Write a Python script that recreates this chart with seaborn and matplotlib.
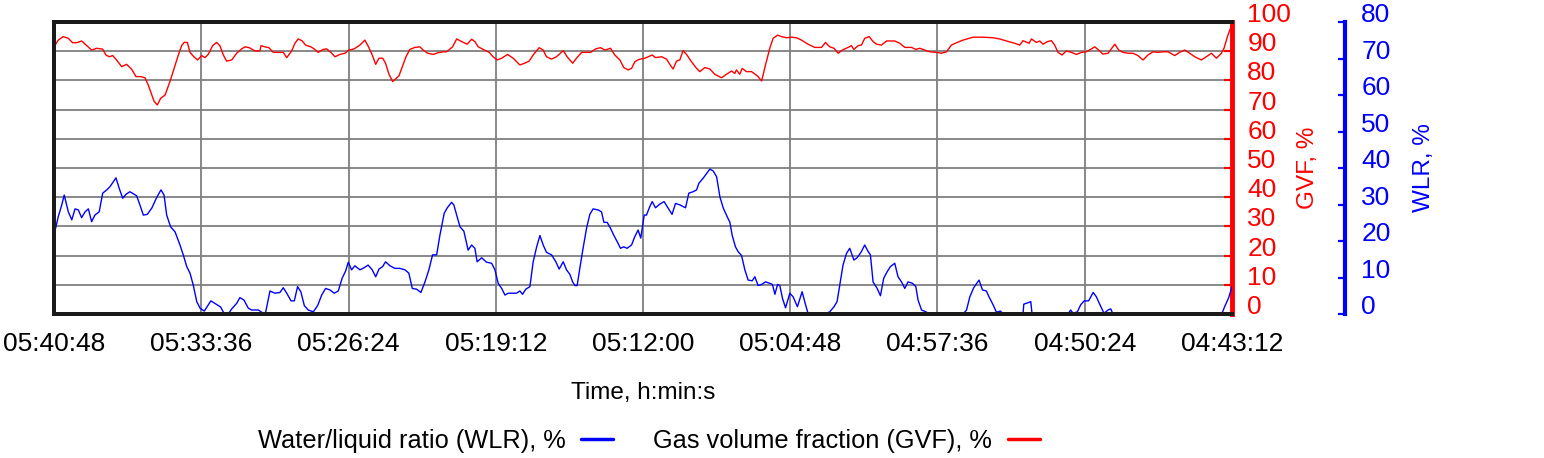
import matplotlib
matplotlib.use("Agg")
import matplotlib.pyplot as plt
import seaborn as sns
from matplotlib.lines import Line2D

# ---------------- data ----------------
time_tick_labels = ["04:43:12", "04:50:24", "04:57:36", "05:04:48", "05:12:00",
                    "05:19:12", "05:26:24", "05:33:36", "05:40:48"]
gvf_ticks = [0, 10, 20, 30, 40, 50, 60, 70, 80, 90, 100]
wlr_ticks = [0, 10, 20, 30, 40, 50, 60, 70, 80]

# minutes elapsed since 04:43:12
gvf_time_min = [
    57.60, 57.39, 57.15, 56.90, 56.69, 56.49, 56.25, 56.00, 55.76, 55.51,
    55.22, 55.06, 54.90, 54.73, 54.54, 54.29, 54.05, 53.80, 53.59, 53.36,
    53.15, 52.99, 52.82, 52.71, 52.55, 52.38, 52.17, 51.93, 51.73, 51.52,
    51.36, 51.24, 51.08, 50.95, 50.76, 50.58, 50.38, 50.22, 50.06, 49.84,
    49.65, 49.49, 49.32, 49.16, 48.91, 48.67, 48.42, 48.26, 48.05,
    47.77, 47.53, 47.48, 47.29, 47.09, 46.88, 46.64, 46.39, 46.22, 45.98,
    45.82, 45.66, 45.46, 45.30, 45.04, 44.88, 44.68, 44.44, 44.27, 44.06,
    43.86, 43.62, 43.37, 43.18, 42.92, 42.64, 42.40, 42.20, 42.04, 41.87,
    41.71, 41.53, 41.39, 41.22, 41.04, 40.90, 40.73, 40.57, 40.39, 40.20,
    39.95, 39.71, 39.55, 39.33, 39.06, 38.81, 38.57,
    38.40, 38.11, 37.91, 37.67, 37.40, 37.18, 37.02, 36.86, 36.61, 36.32,
    36.13, 35.93, 35.71, 35.42, 35.15, 34.82, 34.58, 34.37, 34.17, 33.88,
    33.68, 33.52, 33.27, 33.03, 32.70, 32.51, 32.24, 32.05, 31.80, 31.56,
    31.36, 31.11, 30.88, 30.66, 30.39, 30.18, 29.93, 29.74, 29.53, 29.36,
    29.20, 28.99,
    28.71, 28.55, 28.35, 28.19, 27.89, 27.65, 27.49, 27.33, 27.16, 27.00,
    26.84, 26.67, 26.43, 26.18, 26.02, 25.78, 25.53, 25.29, 24.96, 24.72,
    24.47, 24.31, 24.23, 24.07, 23.95, 23.74, 23.49, 23.20, 23.00, 22.81,
    22.60, 22.44, 22.22, 22.03, 21.78, 21.54, 21.29, 21.05, 20.73, 20.40,
    20.07, 19.88, 19.67, 19.46,
    19.26, 19.05, 18.77, 18.61, 18.49, 18.28, 18.12, 17.96, 17.74, 17.55,
    17.38, 17.14, 16.89, 16.49, 16.24, 16.00, 15.67, 15.46, 15.27, 15.02,
    14.78, 14.45, 14.21, 13.96, 13.72, 13.47, 13.15, 12.66, 12.17, 11.68,
    11.36, 11.03, 10.62, 10.38, 10.22, 9.92,
    9.81, 9.56, 9.40, 9.24, 9.02, 8.83, 8.67, 8.51, 8.31, 8.10,
    7.85, 7.61, 7.36, 7.12, 6.87, 6.71, 6.52, 6.31, 6.06, 5.90,
    5.73, 5.54, 5.33, 5.08, 4.84, 4.60, 4.35, 4.11, 3.86, 3.62,
    3.37, 3.13, 2.80, 2.56, 2.31, 2.07, 1.82, 1.50, 1.17, 1.01,
    0.76, 0.52, 0.39, 0.20, 0.00]
gvf_pct = [
    91.5, 93.8, 95.0, 94.4, 92.9, 92.9, 93.5, 91.9, 90.4, 91.0,
    90.7, 88.7, 88.1, 88.5, 87.0, 84.7, 85.5, 83.8, 81.3, 81.3,
    80.9, 78.4, 75.0, 72.9, 71.6, 73.9, 75.0, 79.6, 84.1, 88.7,
    91.9, 93.0, 93.0, 89.6, 88.1, 87.0, 88.5, 87.8, 88.9, 91.9,
    93.0, 91.9, 88.7, 86.6, 87.0, 89.3, 90.8, 91.5, 91.2,
    90.1, 90.1, 91.9, 91.5, 91.2, 89.6, 89.6, 89.6, 87.8, 90.1,
    92.7, 94.2, 93.5, 92.1, 91.5, 90.8, 89.6, 90.6, 90.8, 89.6,
    88.1, 88.9, 89.3, 90.4, 90.8, 92.1, 93.8, 91.2, 88.7, 85.5,
    87.6, 87.6, 85.9, 82.1, 79.6, 80.5, 81.6, 84.7, 88.1, 90.6,
    91.3, 91.5, 90.4, 89.3, 88.9, 89.5, 89.8,
    89.8, 91.5, 94.2, 93.3, 92.4, 94.1, 93.3, 91.5, 90.6, 89.6,
    88.1, 87.0, 87.6, 88.9, 87.6, 85.3, 85.9, 86.6, 88.7, 91.2,
    90.4, 88.1, 87.3, 88.1, 90.2, 88.1, 85.9, 87.6, 89.6, 89.6,
    89.6, 90.8, 91.2, 90.4, 91.0, 88.7, 87.0, 84.4, 83.6, 84.1,
    86.4, 87.2,
    87.6, 88.1, 88.7, 87.8, 88.1, 87.3, 85.5, 83.9, 86.6, 87.0,
    90.2, 88.9, 86.4, 84.1, 83.0, 84.4, 83.9, 82.1, 80.9, 82.1,
    83.2, 82.4, 83.6, 82.1, 84.1, 83.0, 83.0, 81.5, 79.8, 85.3,
    91.0, 94.4, 95.5, 95.0, 94.6, 94.8, 94.6, 93.8, 92.4, 91.3,
    91.3, 93.0, 91.5, 91.0,
    89.3, 90.4, 91.3, 91.9, 90.6, 91.9, 92.1, 94.4, 95.0, 93.3,
    92.4, 92.1, 93.5, 93.5, 92.7, 91.3, 91.3, 90.6, 91.0, 90.4,
    89.8, 89.6, 89.3, 89.8, 92.1, 92.9, 93.8, 94.8, 94.8, 94.6,
    94.2, 93.5, 92.7, 92.1, 93.6, 92.7,
    94.2, 93.0, 93.5, 92.4, 93.3, 93.6, 92.1, 89.6, 88.7, 90.1,
    89.6, 88.9, 89.6, 89.8, 90.8, 91.5, 90.4, 89.0, 89.3, 90.8,
    92.4, 90.4, 89.6, 89.3, 89.3, 88.5, 87.0, 88.7, 89.8, 89.6,
    89.8, 89.8, 88.5, 89.6, 90.4, 89.3, 88.1, 87.0, 88.5, 89.3,
    87.6, 89.3, 91.0, 95.5, 99.2]

wlr_time_min = [
    57.60, 57.39, 57.22, 57.10, 56.90, 56.73, 56.57, 56.41, 56.25, 56.08,
    55.92, 55.76, 55.60, 55.39, 55.22, 55.02, 54.86, 54.57, 54.41, 54.24,
    54.08, 53.89, 53.56, 53.40, 53.23, 53.04, 52.82, 52.58, 52.37, 52.22,
    52.09, 51.90, 51.68, 51.44, 51.28, 51.11, 50.95, 50.79, 50.62, 50.46,
    50.25, 49.93, 49.65, 49.45, 49.29, 49.08, 48.91, 48.67, 48.51, 48.31,
    48.10,
    47.94, 47.61, 47.37, 47.25, 47.04, 46.80, 46.55, 46.39, 46.22, 46.01,
    45.85, 45.69, 45.53, 45.36, 45.17, 44.92, 44.71, 44.51, 44.32, 44.11,
    43.90, 43.70, 43.51, 43.34, 43.21, 43.05, 42.89, 42.64, 42.43, 42.24,
    42.04, 41.87, 41.71, 41.53, 41.39, 41.17, 40.93, 40.69, 40.44, 40.25,
    40.08, 39.87, 39.66, 39.46, 39.27, 39.09, 38.89, 38.73, 38.52,
    38.37, 38.16, 38.05, 37.91, 37.75, 37.56, 37.35, 37.18, 37.02, 36.91,
    36.69, 36.45, 36.20, 36.04, 35.88, 35.71, 35.55, 35.39, 34.98, 34.82,
    34.69, 34.53, 34.33, 34.17, 34.00, 33.84, 33.68, 33.52, 33.27, 33.06,
    32.90, 32.70, 32.54, 32.38, 32.24, 32.13, 32.02, 31.89, 31.73, 31.56,
    31.40, 31.24, 30.99, 30.83, 30.71, 30.55, 30.39, 30.23, 30.06, 29.90,
    29.74, 29.58, 29.36, 29.20, 29.04,
    28.91, 28.74, 28.63, 28.47, 28.35, 28.19, 27.98, 27.77, 27.57, 27.38,
    27.21, 27.00, 26.72, 26.56, 26.35, 26.18, 26.07, 25.86, 25.69, 25.53,
    25.37, 25.20, 25.04, 24.88, 24.72, 24.55, 24.44, 24.28, 24.15, 23.98,
    23.82, 23.66, 23.46, 23.33, 23.17, 23.00, 22.81, 22.60, 22.47, 22.35,
    22.22, 22.11, 21.98, 21.83, 21.62, 21.46, 21.25, 21.02, 20.85, 20.73,
    20.40, 19.91, 19.67, 19.46,
    19.31, 19.18, 19.02, 18.85, 18.69, 18.49, 18.33, 18.12, 17.96, 17.79,
    17.68, 17.55, 17.35, 17.19, 17.03, 16.86, 16.70, 16.49, 16.33, 16.16,
    16.00, 15.84, 15.62, 15.46, 15.35, 15.18, 14.97, 14.78, 13.15, 12.98,
    12.82, 12.63, 12.37, 12.20, 12.01, 11.88, 11.68, 11.52, 11.32, 11.19,
    10.22, 10.18, 9.92,
    9.84, 9.78, 8.02, 7.89, 7.77, 7.56, 7.40, 7.23, 7.01, 6.79,
    6.63, 6.47, 6.26, 6.06, 5.93, 5.82, 0.50, 0.36, 0.16, 0.00]
wlr_pct = [
    21.6, 26.7, 29.9, 32.6, 28.0, 25.8, 28.8, 28.5, 26.4, 28.0,
    28.8, 25.3, 27.1, 28.0, 33.1, 34.0, 34.9, 37.3, 34.4, 31.7,
    32.8, 33.5, 32.4, 29.9, 27.1, 27.3, 29.0, 31.9, 34.0, 32.6,
    27.1, 23.9, 22.5, 18.9, 16.2, 13.0, 11.2, 7.9, 3.4, 1.6,
    0.8, 3.6, 2.6, 1.9, 0.2, 0.0, 1.4, 2.9, 4.5, 3.8,
    1.6,
    1.1, 1.1, 0.2, 0.5, 6.3, 5.7, 5.9, 7.2, 5.7, 3.6,
    3.6, 7.5, 6.1, 2.3, 1.1, 0.6, 2.3, 5.2, 7.0, 6.6,
    5.7, 6.3, 9.8, 11.8, 14.2, 12.1, 13.2, 12.1, 12.7, 13.4,
    12.1, 10.2, 12.3, 13.0, 14.3, 13.2, 12.5, 12.5, 12.1, 11.2,
    7.0, 6.8, 5.9, 8.8, 12.1, 16.2, 16.2, 21.6, 27.6,
    29.1, 30.6, 29.9, 27.1, 23.9, 22.7, 17.5, 18.9, 18.0, 14.3,
    15.4, 14.2, 13.9, 12.1, 8.4, 7.0, 5.2, 5.7, 5.7, 6.3,
    5.4, 6.8, 7.5, 14.3, 18.4, 21.5, 18.9, 16.9, 16.2, 14.3,
    12.3, 14.3, 12.1, 10.9, 8.8, 7.8, 7.8, 12.5, 18.0, 23.5,
    27.3, 28.8, 28.5, 28.0, 25.1, 25.1, 23.5, 21.6, 19.8, 18.0,
    18.4, 18.0, 18.9, 21.2, 23.0,
    20.8, 27.1, 27.1, 29.4, 30.8, 29.1, 30.1, 30.8, 29.0, 27.3,
    30.3, 29.9, 29.1, 33.1, 33.5, 34.0, 35.8, 37.2, 38.5, 39.7,
    39.2, 37.6, 32.1, 29.1, 27.1, 25.1, 21.6, 18.4, 17.1, 16.0,
    12.1, 9.3, 9.1, 10.2, 7.8, 8.1, 8.8, 8.4, 8.1, 5.4,
    8.1, 7.8, 4.3, 1.7, 5.7, 4.7, 2.0, 6.1, 2.5, 0.2,
    0.0, 0.0, 0.6, 2.0,
    3.4, 7.9, 13.4, 16.6, 18.0, 14.8, 15.4, 17.1, 18.9, 17.1,
    16.2, 8.8, 7.0, 5.0, 9.8, 11.6, 13.0, 13.9, 10.2, 8.8,
    7.0, 8.8, 8.4, 7.5, 3.8, 1.1, 0.6, 0.0, 0.0, 1.1,
    4.7, 7.2, 9.3, 6.6, 6.3, 4.7, 2.5, 0.5, 0.8, 0.0,
    0.0, 2.7, 3.2,
    3.4, 0.2, 0.0, 1.1, 0.2, 0.6, 2.5, 3.6, 3.6, 5.9,
    4.7, 2.7, 0.2, 1.1, 1.4, 0.0, 0.0, 2.0, 4.5, 7.5]

gvf_name = "Gas volume fraction (GVF), %"
wlr_name = "Water/liquid ratio (WLR), %"

# ---------------- styling ----------------
sns.set_style("white")
plt.rcParams["font.family"] = ["Liberation Sans", "DejaVu Sans"]
plt.rcParams["text.color"] = "black"
plt.rcParams["axes.labelcolor"] = "black"

RED = "#ff0000"
BLUE = "#0000ff"
TICK_FS = 19
LABEL_FS = 17.5
LEGEND_FS = 18.3


def to_minutes(s):
    h, m, sec = (int(v) for v in s.split(":"))
    return h * 60 + m + sec / 60.0


t0 = to_minutes(time_tick_labels[0])
tick_pos = [to_minutes(s) - t0 for s in time_tick_labels]

fig = plt.figure(figsize=(15.44, 4.58), dpi=100)
ax = fig.add_axes([54 / 1544, 1 - 314 / 458, 1178 / 1544, 292 / 458])
ax2 = ax.twinx()

sns.lineplot(x=gvf_time_min, y=gvf_pct, ax=ax, color=RED, lw=1.0,
             estimator=None, sort=False)
sns.lineplot(x=wlr_time_min, y=wlr_pct, ax=ax2, color=BLUE, lw=1.0,
             estimator=None, sort=False)

ax.set_xlim(tick_pos[-1], tick_pos[0])
ax.set_ylim(gvf_ticks[0], gvf_ticks[-1])
ax2.set_ylim(wlr_ticks[0], wlr_ticks[-1])

ax.set_xticks(tick_pos, labels=time_tick_labels)
ax.set_yticks(gvf_ticks)
ax2.set_yticks(wlr_ticks)

ax.grid(True, color="#7f7f7f", lw=1.3)

# frame
for a in (ax, ax2):
    for side in ("left", "top", "bottom"):
        a.spines[side].set_color("#1a1a1a")
        a.spines[side].set_linewidth(2.8)
ax.spines["right"].set_color(RED)
ax.spines["right"].set_linewidth(3.5)
ax2.spines["right"].set_color(BLUE)
ax2.spines["right"].set_linewidth(3.0)
ax2.spines["right"].set_position(("outward", 81))

# ticks
ax.tick_params(axis="x", length=0, labelsize=TICK_FS, pad=13, labelcolor="black")
ax.yaxis.tick_right()
ax.yaxis.set_label_position("right")
ax.tick_params(axis="y", direction="in", length=6, width=1.6, color=RED,
               labelcolor=RED, labelsize=TICK_FS, pad=11,
               left=False, labelleft=False, right=True, labelright=True)
ax2.tick_params(axis="y", direction="in", length=5, width=1.6, color=BLUE,
                labelcolor=BLUE, labelsize=TICK_FS, pad=12)

for t in ax.yaxis.get_major_ticks():
    t.label2.set_verticalalignment("baseline")
for t in ax2.yaxis.get_major_ticks():
    t.label2.set_verticalalignment("baseline")

ax.set_xlabel("Time, h:min:s", fontsize=LABEL_FS, labelpad=19)
ax.set_ylabel("GVF, %", color=RED, fontsize=LABEL_FS, rotation=90, labelpad=4)
ax2.set_ylabel("WLR, %", color=BLUE, fontsize=LABEL_FS, rotation=90, labelpad=16)

handles = [Line2D([], [], color=BLUE, lw=2.5), Line2D([], [], color=RED, lw=2.5)]
fig.legend(handles, [wlr_name, gvf_name], loc="center",
           bbox_to_anchor=(649 / 1544, 1 - 441 / 458), ncol=2, frameon=False,
           markerfirst=False, handlelength=1.26, handletextpad=0.6,
           columnspacing=1.57, fontsize=LEGEND_FS)

fig.savefig("out.png", dpi=100)
